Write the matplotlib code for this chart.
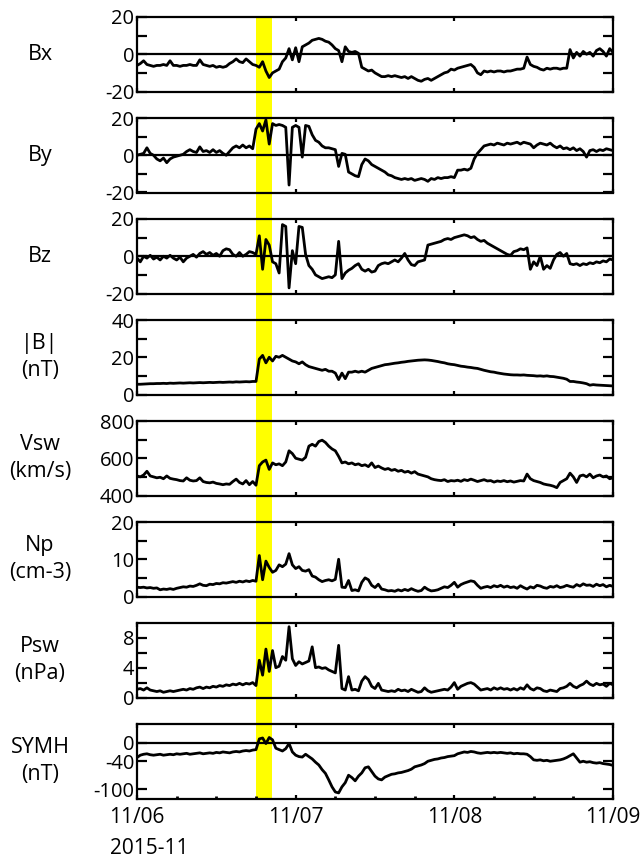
import numpy as np
import pandas as pd
import matplotlib
matplotlib.use('Agg')
import matplotlib.pyplot as plt
import matplotlib.dates as mdates
from matplotlib.patches import Rectangle

plt.rcParams['font.family'] = ['Open Sans', 'DejaVu Sans']
plt.rcParams['axes.unicode_minus'] = False

# 30-min samples from 2015-11-06 00:00 to 2015-11-09 00:00 (one row = 6 hours)
times = pd.date_range('2015-11-06 00:00', '2015-11-09 00:00', freq='30min')

bx = [-6, -5, -3.5, -5.5, -6, -6.5, -6, -6, -5.5, -6, -3.5, -6,
      -6, -6.5, -6, -6, -5.5, -6, -6, -3, -5.5, -6, -6.5, -6,
      -7, -6.5, -7, -6.5, -5, -4, -2.5, -4, -4.5, -2.5, -4, -5.5,
      -6, -7, -4, -9, -12.5, -10, -9, -8, -4, -2, 3, -3,
      3.5, -4, 4, 5, 6, 7.5, 8, 8.5, 8, 7, 6.5, 5,
      3, 2, -4, 4, 1.5, 1, 1.5, 0.5, -7, -8, -9, -8.5,
      -10, -11, -12, -12, -11.5, -12, -11.5, -12, -12.5, -12, -13, -12,
      -13, -14, -14.5, -13.5, -13, -14, -13, -12, -11, -10, -9.5, -8,
      -8.5, -7.5, -7, -6.5, -6, -5.5, -7, -10, -11, -9, -9.5, -9,
      -9.5, -9, -9, -9.5, -9, -9, -8.5, -8, -8, -7.5, -1.5, -5.5,
      -6.5, -7, -8, -8.5, -7.5, -8, -7.5, -7.5, -8, -7.5, -7.5, 2.5,
      -2, 1, -1, 1.5, 0, 1, -1, 2, 3, 1.5, -1, 3,
      1]

by = [0, 0.5, 1, 4, 1, 0, -2, -3, -1.5, -4, -2, -1,
      -0.5, 0, 0.5, 2, 3, 2, 1.5, 4.5, 2, 2.5, 1.5, 3,
      1.5, 2.5, 1, 0, 2, 4, 5, 4, 5.5, 4, 5, 3.5,
      14, 17, 13, 19, 6, 17, 16, 16.5, 16, 15, -16, 15,
      16, 15, -1, 16, 15.5, 11, 8, 7, 5, 4, 4, 3.5,
      3, -6, 1, 0.5, -9, -10, -11, -11.5, -5, -2, -3, -5,
      -6, -7, -8, -9, -10.5, -11, -12, -12.5, -13, -12.5, -13, -12.5,
      -13.5, -13, -12.5, -13, -14, -12.5, -13, -12, -12.5, -12, -12, -11.5,
      -12, -8, -8, -7.5, -8, -7, -2, 1, 3, 5, 5.5, 6,
      5.5, 6.5, 6, 5.5, 6.5, 6, 6.5, 7, 6, 7, 6.5, 6,
      4, 5.5, 6.5, 6, 5.5, 6.5, 5, 4, 5, 3.5, 4, 3,
      4, 2.5, 3.5, 2, -1, 2.5, 3, 2, 3, 2.5, 3.5, 3,
      2.5]

bz = [-1, -3, 0, -1, 0.5, -1.5, -0.5, -2, 0, -1, 0.5, -1,
      -2, -0.5, -3, -1, 0, 1, -0.5, 1.5, 2.5, 1, 2, 0.5,
      1.5, 0, 3, 4, 3.5, 1, 0, 2, 0, 1, 2.5, 2,
      1, 11, -7, 9, 6, -3, -4, -9, 17, 16, -17, 3,
      -4, 16, 15.5, 1, -5, -7, -10, -11, -12, -11.5, -11, -11.5,
      -10, 8, -12, -9, -7.5, -6.5, -5, -4, -7, -8, -7, -8.5,
      -8, -5, -4, -3.5, -4, -3, -2, -3, -1, 1.5, -2, -4.5,
      -5, -3, -2.5, -2, 6, 6.5, 7, 7.5, 8, 9, 9.5, 9,
      10, 10.5, 11, 11.5, 11, 10, 10.5, 9, 8, 8.5, 7, 6,
      5, 4, 3, 2, 1, 0.5, 2.5, 3, 4, 3.5, 4.5, -7,
      -3, -5, 0, -7, -5, -6.5, -2, 1, 2, 0, 1.5, -4,
      -4.5, -4, -5, -4, -4.5, -3.5, -4, -3, -3.5, -2.5, -3, -1.5,
      -2]

bt = [5.5, 5.5, 5.6, 5.7, 5.8, 5.8, 5.9, 5.9, 6.0, 5.9, 6.1, 6.0,
      6.1, 6.2, 6.1, 6.2, 6.3, 6.2, 6.3, 6.4, 6.3, 6.4, 6.5, 6.4,
      6.5, 6.6, 6.5, 6.6, 6.7, 6.6, 6.8, 6.7, 6.8, 6.9, 6.8, 7.0,
      7.0, 19, 21, 17, 20, 18, 20.5, 20, 21, 20, 19, 18,
      17.5, 16.5, 17.5, 16, 15, 14.5, 14, 13.5, 13, 13.5, 12.5, 12.5,
      11.5, 8, 11.5, 8.5, 12, 12, 12.5, 12, 12.5, 12, 13, 14,
      14.5, 15, 15.5, 16, 16.2, 16.5, 16.8, 17, 17.3, 17.5, 17.8, 18,
      18.2, 18.4, 18.5, 18.6, 18.5, 18.3, 18, 17.7, 17.3, 17, 16.5, 16.2,
      16, 15.6, 15.2, 15, 14.7, 14.5, 14.2, 14, 13.5, 13, 12.6, 12.2,
      12, 11.6, 11.3, 11, 10.8, 10.6, 10.5, 10.5, 10.4, 10.5, 10.3, 10.2,
      10.1, 9.9, 10, 9.8, 10, 9.7, 9.6, 9.3, 9, 8.7, 8.2, 7,
      7, 6.7, 6.5, 6.2, 5.8, 5, 5.3, 5.1, 5, 4.9, 4.8, 4.7,
      4.6]

vsw = [505, 500, 510, 530, 505, 500, 495, 498, 490, 505, 492, 488,
       485, 480, 478, 495, 482, 478, 480, 495, 475, 470, 468, 472,
       465, 462, 458, 462, 460, 475, 488, 470, 462, 480, 458, 475,
       455, 560, 580, 590, 540, 575, 565, 570, 560, 580, 640, 625,
       600, 595, 590, 605, 665, 675, 665, 690, 697, 685, 665, 650,
       640, 610, 575, 580, 570, 575, 565, 570, 560, 565, 555, 575,
       550, 558, 548, 540, 545, 535, 540, 530, 535, 525, 530, 520,
       528, 515, 510, 505, 500, 490, 485, 482, 480, 485, 475, 480,
       478, 482, 476, 485, 480, 488, 482, 475, 480, 485, 478, 480,
       472, 478, 475, 480, 474, 478, 472, 476, 480, 478, 515, 490,
       480, 475, 470, 462, 458, 455, 450, 442, 470, 480, 490, 520,
       500, 470, 505, 510, 500, 515, 495, 505, 510, 500, 505, 490,
       495]

np_dens = [2.5, 2.4, 2.5, 2.3, 2.4, 2.2, 2.3, 1.8, 2.0, 1.9, 2.1, 1.9,
           2.2, 2.4, 2.6, 2.5, 2.8, 2.7, 3.0, 3.4, 3.0, 2.9, 3.3, 3.2,
           3.5, 3.4, 3.7, 3.6, 3.8, 4.0, 3.8, 4.1, 3.9, 4.2, 4.0, 4.3,
           4.1, 11, 4.5, 9.5, 7.8, 6.5, 7, 8.5, 8, 8.7, 11.5, 8.5,
           7.5, 8, 7, 6.8, 7.2, 5.5, 5.2, 4.5, 4, 4.3, 4.5, 4.2,
           4.6, 10, 2.5, 2.4, 4.3, 1.6, 1.8, 1.5, 3.8, 5, 4.5, 3,
           2.4, 3.3, 2, 1.8, 1.5, 1.6, 1.4, 1.8, 1.5, 1.9, 1.6, 2.1,
           1.7, 1.4, 1.6, 2.5, 1.9, 1.5, 1.6, 1.8, 2.2, 2.6, 2.4, 3.0,
           3.8, 2.5, 3.2, 3.6, 3.9, 4.2, 4.0, 3.0, 2.2, 2.5, 2.7, 2.4,
           2.9, 2.6, 3.0, 2.5, 2.8, 2.4, 2.6, 2.2, 2.9, 2.4, 2.0, 2.6,
           2.3, 3.0, 2.8, 2.4, 2.2, 2.7, 2.5, 2.9, 2.4, 2.6, 3.0, 2.7,
           2.5, 3.2, 2.8, 3.4, 3.0, 3.1, 2.7, 3.3, 2.9, 3.2, 2.6, 3.0,
           2.7]

psw = [1.1, 1.2, 1.0, 1.3, 1.0, 0.9, 0.8, 0.9, 0.7, 0.8, 0.9, 0.8,
       0.9, 1.0, 1.1, 1.0, 1.2, 1.1, 1.3, 1.4, 1.2, 1.4, 1.3, 1.5,
       1.4, 1.6, 1.5, 1.7, 1.6, 1.8, 1.7, 1.9, 1.7, 1.9, 1.8, 2.0,
       1.6, 5, 3, 6.5, 3.5, 6.3, 4, 4.2, 5.5, 5, 9.5, 5.2,
       4.3, 4.8, 4.5, 4.7, 4.9, 6.8, 4, 4.1, 3.9, 4, 3.7, 3.5,
       3.3, 7, 1.2, 1.0, 2.8, 1.0, 1.1, 0.9, 2.2, 2.8, 2.4, 1.5,
       1.2, 1.9, 1.0, 0.9, 0.8, 0.9, 0.8, 1.1, 0.9, 1.0, 0.8, 1.1,
       0.9, 0.7, 0.8, 1.3, 0.9, 0.7, 0.8, 0.9, 1.0, 1.1, 1.0, 1.4,
       2.0, 1.1, 1.5, 1.7, 1.9, 2.0, 1.8, 1.4, 1.0, 1.1, 1.2, 1.0,
       1.3, 1.1, 1.3, 1.1, 1.2, 1.0, 1.2, 1.0, 1.3, 1.1, 1.7, 1.2,
       1.0, 1.3, 1.2, 0.9, 0.8, 1.0, 0.9, 0.8, 1.2, 1.3, 1.5, 1.9,
       1.5, 1.3, 1.6, 1.8, 2.2, 1.8, 1.6, 1.9, 1.7, 1.8, 1.5, 1.9,
       1.7]

symh = [-32, -27, -25, -24, -26, -27, -26, -25, -27, -26, -25, -26,
        -24, -25, -24, -23, -25, -24, -23, -22, -24, -23, -22, -23,
        -21, -22, -20, -21, -22, -20, -19, -20, -18, -17, -18, -16,
        -15, 8, 10, -2, 11, 6, -12, -15, -18, -13, -2, -20,
        -27, -30, -31, -25, -30, -35, -42, -48, -58, -66, -80, -95,
        -106, -108, -95, -86, -70, -75, -82, -72, -65, -54, -52, -62,
        -72, -78, -80, -74, -71, -68, -67, -65, -64, -62, -60, -57,
        -52, -50, -48, -45, -40, -38, -36, -35, -33, -32, -30, -29,
        -28, -24, -22, -20, -21, -19, -20, -22, -23, -22, -21, -22,
        -21, -22, -21, -22, -23, -22, -24, -23, -24, -24, -25, -30,
        -37, -38, -37, -39, -38, -40, -39, -38, -37, -35, -32, -28,
        -24, -33, -42, -40, -42, -41, -43, -44, -43, -45, -46, -47,
        -49]

band_start = pd.Timestamp('2015-11-06 18:00')
band_end = pd.Timestamp('2015-11-06 20:24')

names = ['Bx', 'By', 'Bz', '|B|\n(nT)', 'Vsw\n(km/s)', 'Np\n(cm-3)',
         'Psw\n(nPa)', 'SYMH\n(nT)']
series = [bx, by, bz, bt, vsw, np_dens, psw, symh]
ylims = [(-20, 20), (-20, 20), (-20, 20), (0, 40), (400, 800), (0, 20),
         (0, 10), (-120, 40)]
major = [[-20, 0, 20], [-20, 0, 20], [-20, 0, 20], [0, 20, 40],
         [400, 600, 800], [0, 10, 20], [0, 4, 8], [-100, -40, 0]]
minor = [[-10, 10], [-10, 10], [-10, 10], [10, 30], [500, 700], [5, 15],
         [2, 6], []]
zero_line = [True, True, True, False, False, False, False, True]

W, H = 643, 861
fig = plt.figure(figsize=(W / 100, H / 100), dpi=100)

left, width = 137 / W, 476 / W
top0, pitch, height = 17, 101, 74.5

axes = []
for i in range(8):
    bottom = 1 - (top0 + i * pitch + height) / H
    ax = fig.add_axes([left, bottom, width, height / H])
    ax.set_facecolor('none')
    axes.append(ax)

    ax.plot(times, series[i], color='black', lw=2.0, zorder=3)
    if zero_line[i]:
        ax.axhline(0, color='black', lw=1.6, zorder=2)

    ax.set_xlim(times[0], times[-1])
    ax.set_ylim(*ylims[i])
    ax.set_yticks(major[i])
    ax.set_yticks(minor[i], minor=True)
    ax.tick_params(axis='y', which='both', direction='in', length=7,
                   width=1.6, left=True, right=True, labelsize=14.5, pad=2)

    ax.xaxis.set_major_locator(mdates.DayLocator())
    ax.xaxis.set_major_formatter(mdates.DateFormatter('%m/%d'))
    ax.tick_params(axis='x', which='major', direction='in', length=3,
                   width=1.6, top=True, bottom=True, labelsize=15, pad=6)
    if i < 7:
        ax.tick_params(axis='x', labelbottom=False)
    else:
        ax.xaxis.set_minor_locator(mdates.HourLocator(byhour=[6, 12, 18]))
        ax.tick_params(axis='x', which='minor', direction='in', length=2.5,
                       width=2, top=False)

    for sp in ax.spines.values():
        sp.set_linewidth(1.6)

    yc = 1 - (top0 + i * pitch + height / 2) / H
    fig.text(40 / W, yc, names[i], ha='center', va='center', fontsize=15.5,
             multialignment='center', linespacing=1.35)

# shaded interval running through all panels
fig.canvas.draw()
to_fig = fig.transFigure.inverted()
x0 = to_fig.transform(axes[0].transData.transform((mdates.date2num(band_start), 0)))[0]
x1 = to_fig.transform(axes[0].transData.transform((mdates.date2num(band_end), 0)))[0]
y_top = axes[0].get_position().y1
y_bot = axes[-1].get_position().y0
fig.add_artist(Rectangle((x0, y_bot), x1 - x0, y_top - y_bot,
                         transform=fig.transFigure, facecolor='#ffff00',
                         edgecolor='none', zorder=-1))

fig.text(110 / W, 1 - 849 / H, '2015-11', ha='left', va='center', fontsize=15)

fig.savefig('out.png', dpi=100)
